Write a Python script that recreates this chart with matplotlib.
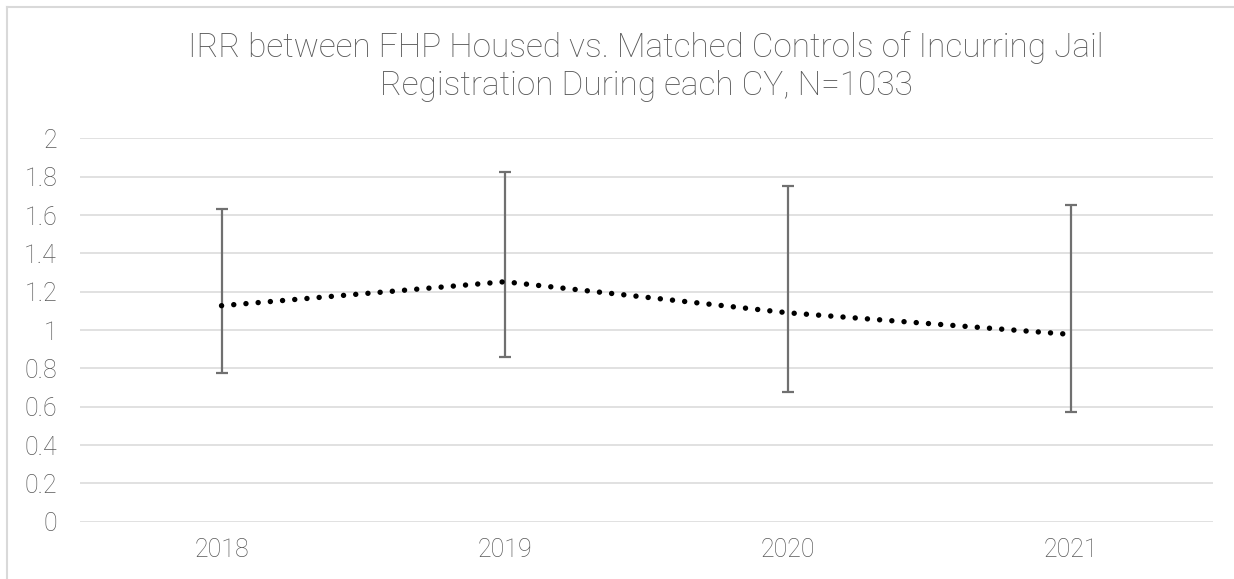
import matplotlib.pyplot as plt
from matplotlib.lines import Line2D

# Values
years = ["2018", "2019", "2020", "2021"]
irr = [1.127, 1.252, 1.090, 0.977]
upper = [1.630, 1.826, 1.751, 1.650]
lower = [0.777, 0.861, 0.677, 0.574]
y_ticks = [0, 0.2, 0.4, 0.6, 0.8, 1, 1.2, 1.4, 1.6, 1.8, 2]
y_labels = ["0", "0.2", "0.4", "0.6", "0.8", "1", "1.2", "1.4", "1.6", "1.8", "2"]
title = ("IRR between FHP Housed vs. Matched Controls of Incurring Jail\n"
         "Registration During each CY, N=1033")

plt.rcParams["font.family"] = ["Roboto", "DejaVu Sans"]
text_color = "#595959"
grid_color = "#d9d9d9"

fig = plt.figure(figsize=(12.34, 5.79), dpi=100)
ax = fig.add_axes([0.0648, 0.099, 0.9178, 0.662])

x = list(range(len(years)))
err_low = [v - lo for v, lo in zip(irr, lower)]
err_high = [hi - v for v, hi in zip(irr, upper)]

# Error bars
ax.errorbar(x, irr, yerr=[err_low, err_high], fmt="none",
            ecolor="#707070", elinewidth=1.6, capsize=4.3, capthick=1.6,
            zorder=3)

# Dotted trend line
ax.plot(x, irr, color="black", linewidth=3.9,
        linestyle=(0, (0.01, 2.25)), dash_capstyle="round", zorder=4)

ax.set_xlim(-0.5, len(years) - 0.5)
ax.set_ylim(0, 2)
ax.set_xticks(x)
ax.set_xticklabels(years)
ax.set_yticks(y_ticks)
ax.set_yticklabels(y_labels)

ax.grid(axis="y", color=grid_color, linewidth=1.1, zorder=0)
ax.set_axisbelow(True)
for side in ["top", "right", "left", "bottom"]:
    ax.spines[side].set_visible(False)
ax.tick_params(axis="both", length=0, labelsize=18, colors=text_color,
               labelcolor=text_color)
ax.tick_params(axis="y", pad=16.5)
ax.tick_params(axis="x", pad=12)
for lab in ax.get_xticklabels() + ax.get_yticklabels():
    lab.set_fontweight("light")

fig.text(0.5235, 0.885, title, ha="center", va="center", fontsize=24,
         color=text_color, fontweight="light", linespacing=1.25)

# Chart-area border (only top and left visible in the crop)
fig.add_artist(Line2D([0.0057, 0.0057], [0, 0.988], transform=fig.transFigure,
                      color=grid_color, linewidth=1.5))
fig.add_artist(Line2D([0.0057, 1], [0.988, 0.988], transform=fig.transFigure,
                      color=grid_color, linewidth=1.5))

fig.savefig("out.png", dpi=100)
